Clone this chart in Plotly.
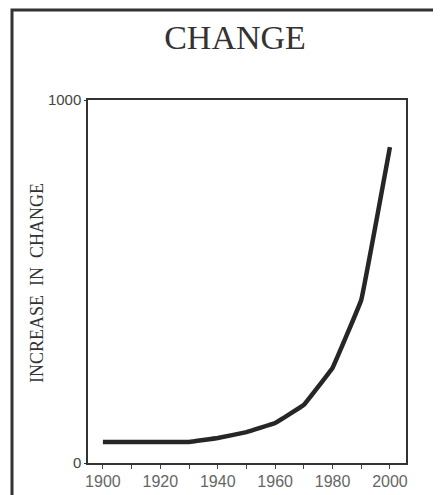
import plotly.graph_objects as go

years = [1900, 1910, 1920, 1930, 1940, 1950, 1960, 1970, 1980, 1990, 2000]
values = [58, 58, 58, 58, 69, 85, 110, 160, 262, 449, 870]
x_tick_vals = [1900, 1920, 1940, 1960, 1980, 2000]
x_tick_text = ["1900", "1920", "1940", "1960", "1980", "2000"]
y_tick_vals = [0, 1000]
y_tick_text = ["0", "1000"]

# page is offset by an 8px body margin; work in page pixels and convert
OFF = 8
W, H = 441 - OFF, 495 - OFF
L, R, T, B = 88 - OFF, 441 - 406, 100 - OFF, 495 - 463
pw, ph = W - L - R, H - T - B

def px_x(px):
    return (px - OFF - L) / pw

def px_y(py):
    return (H - B - (py - OFF)) / ph

fig = go.Figure()
fig.add_trace(go.Scatter(x=years, y=values, mode="lines",
                         line=dict(color="#262626", width=4.5, shape="spline", smoothing=0.15),
                         showlegend=False, hoverinfo="skip"))

fig.update_layout(
    width=W, height=H,
    margin=dict(l=L, r=R, t=T, b=B, autoexpand=False),
    paper_bgcolor="white", plot_bgcolor="white",
    xaxis=dict(range=[1894.8, 2005.6], tickvals=x_tick_vals, ticktext=x_tick_text,
               automargin=False,
               showgrid=False, zeroline=False, showline=True, linecolor="#333", linewidth=1.5,
               mirror=True, ticks="outside", ticklen=0, ticklabelstandoff=3,
               tickfont=dict(family="Liberation Sans, Arial", size=16, color="#666"),
               minor=dict(dtick=10, tick0=1900, ticks="outside", ticklen=4, tickcolor="#444", tickwidth=1.2)),
    yaxis=dict(range=[0, 1000], tickvals=y_tick_vals, ticktext=y_tick_text,
               automargin=False,
               showgrid=False, zeroline=False, showline=True, linecolor="#333", linewidth=1.5,
               mirror=True, ticks="outside", ticklen=2, tickcolor="#333",
               tickfont=dict(family="Liberation Sans, Arial", size=15, color="#444")),
    title=dict(text="CHANGE", x=(235 - OFF) / W, xanchor="center",
               y=1 - (37 - OFF) / H, yanchor="middle",
               font=dict(family="Liberation Serif, Times New Roman", size=34, color="#333")),
    annotations=[dict(text="INCREASE  IN  CHANGE", xref="paper", yref="paper",
                      x=px_x(37), y=px_y(283), xanchor="center", yanchor="middle",
                      textangle=-90, showarrow=False,
                      font=dict(family="Liberation Serif, Times New Roman", size=18, color="#333"))],
    shapes=[dict(type="rect", xref="paper", yref="paper",
                 x0=px_x(12), x1=px_x(470),
                 y0=px_y(530), y1=px_y(10),
                 line=dict(color="#333", width=3), fillcolor="rgba(0,0,0,0)", layer="below")],
)

fig.write_html("out.html")
